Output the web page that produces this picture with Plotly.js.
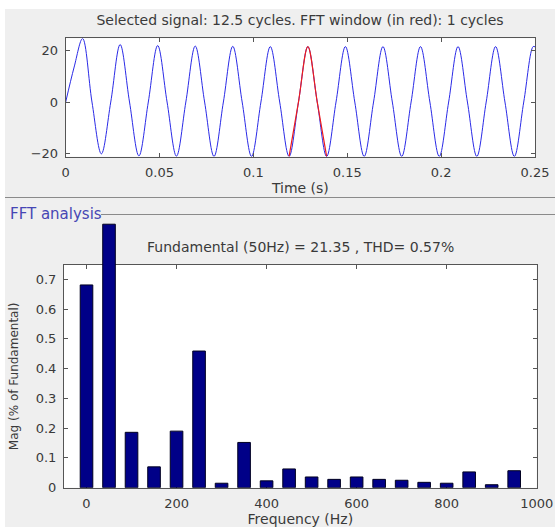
<!DOCTYPE html>
<html>
<head>
<meta charset="utf-8">
<script src="https://cdn.plot.ly/plotly-3.0.1.min.js"></script>
<style>
html,body{margin:0;padding:0;background:#efefef;}
#chart{width:555px;height:527px;}
</style>
</head>
<body>
<div id="chart"></div>
<script>
// ---- Signal (zero crossings and extrema) ----
var sigTime = [0, 0.0045, 0.009, 0.014, 0.019, 0.024, 0.029, 0.034, 0.039, 0.044, 0.049, 0.054,
  0.059, 0.064, 0.069, 0.074, 0.079, 0.084, 0.089, 0.094, 0.099, 0.104,
  0.109, 0.114, 0.119, 0.124, 0.129, 0.134, 0.139, 0.144, 0.149, 0.154,
  0.159, 0.164, 0.169, 0.174, 0.179, 0.184, 0.189, 0.194, 0.199, 0.204,
  0.209, 0.214, 0.219, 0.224, 0.229, 0.234, 0.239, 0.244, 0.249, 0.25];
var sigValue = [0, 13.5, 24.5, 0, -20.0, 0, 22.2, 0, -20.8, 0, 21.8, 0,
  -20.9, 0, 21.6, 0, -21, 0, 21.5, 0, -21, 0,
  21.4, 0, -21, 0, 21.4, 0, -21, 0, 21.4, 0,
  -21, 0, 21.4, 0, -21, 0, 21.4, 0, -21, 0,
  21.4, 0, -21, 0, 21.4, 0, -21, 0, 21.4, 21.3];
var fftWindowStart = 0.119;
var fftWindowEnd = 0.139;

// ---- FFT bars ----
var freqHz = [0, 50, 100, 150, 200, 250, 300, 350, 400, 450, 500, 550, 600, 650, 700, 750, 800, 850, 900, 950];
var magPct = [0.681, 0.885, 0.186, 0.070, 0.190, 0.459, 0.015, 0.152, 0.023, 0.063, 0.036, 0.028, 0.036, 0.028, 0.025, 0.018, 0.015, 0.053, 0.010, 0.057];

var topTitle = "Selected signal: 12.5 cycles. FFT window (in red): 1 cycles";
var fftSubtitle = "Fundamental (50Hz) = 21.35 , THD= 0.57%";
var panelLabel = "FFT analysis";
var timeTicks = [0, 0.05, 0.1, 0.15, 0.2, 0.25];
var timeTickText = ["0", "0.05", "0.1", "0.15", "0.2", "0.25"];
var sigTicks = [-20, 0, 20];
var magTicks = [0, 0.1, 0.2, 0.3, 0.4, 0.5, 0.6, 0.7];
var freqTicks = [0, 200, 400, 600, 800, 1000];

var winT = [], winV = [];
for (var i = 0; i < sigTime.length; i++) {
  if (sigTime[i] >= fftWindowStart - 1e-9 && sigTime[i] <= fftWindowEnd + 1e-9) {
    winT.push(sigTime[i]); winV.push(sigValue[i]);
  }
}

var W = 555, H = 527;
function px(x){return x / W;}
function py(y){return 1 - y / H;}

// plot-area geometry (pixels)
var top1 = 38.3, bot1 = 156.7, left1 = 65.7, right1 = 535;
var top2 = 265, bot2 = 487.7, left2 = 64, right2 = 536.7, overflowTop = 220;
var magMax = 0.748;

var FONT = 'DejaVu Sans, Verdana, sans-serif';
var TXT = '#3a3a3a';
var axisCommon = {
  showgrid: false, zeroline: false, showline: true, linecolor: '#555', linewidth: 1,
  mirror: 'ticks', ticks: 'inside', ticklen: 4, tickcolor: '#555',
  tickfont: {family: FONT, size: 13, color: TXT}, automargin: false, fixedrange: true,
  ticklabelstandoff: 4
};

var traces = [
  {x: sigTime, y: sigValue, type: 'scatter', mode: 'lines', xaxis: 'x', yaxis: 'y',
   line: {color: '#2a2ae6', width: 1, shape: 'spline', smoothing: 1.0}, hoverinfo: 'skip'},
  {x: winT, y: winV, type: 'scatter', mode: 'lines', xaxis: 'x', yaxis: 'y',
   line: {color: '#ee1c1c', width: 1.2, shape: 'spline', smoothing: 1.0}, hoverinfo: 'skip'},
  // empty trace so the framed FFT subplot (x2/y2) exists
  {x: [], y: [], type: 'scatter', mode: 'lines', xaxis: 'x2', yaxis: 'y2', hoverinfo: 'skip'},
  {x: freqHz, y: magPct, type: 'bar', xaxis: 'x2', yaxis: 'y3', width: 28,
   marker: {color: '#000088', line: {color: '#000020', width: 1}}, hoverinfo: 'skip'}
];

var layout = {
  width: W, height: H, margin: {l: 0, r: 0, t: 0, b: 0},
  paper_bgcolor: '#efefef', plot_bgcolor: 'rgba(0,0,0,0)', showlegend: false,
  font: {family: FONT, size: 13, color: TXT},
  title: {text: topTitle, x: px(300), xanchor: 'center', y: py(20), yanchor: 'middle',
          font: {family: FONT, size: 14, color: TXT}},
  xaxis: Object.assign({}, axisCommon, {
    domain: [px(left1), px(right1)], range: [0, 0.25], anchor: 'y',
    tickvals: timeTicks, ticktext: timeTickText,
    title: {text: 'Time (s)', font: {family: FONT, size: 14, color: TXT}, standoff: 3}
  }),
  yaxis: Object.assign({}, axisCommon, {
    domain: [py(bot1), py(top1)], range: [-21.1, 24.6], anchor: 'x',
    tickvals: sigTicks
  }),
  xaxis2: Object.assign({}, axisCommon, {
    domain: [px(left2), px(right2)], range: [-50, 1000], anchor: 'y2',
    tickvals: freqTicks,
    title: {text: 'Frequency (Hz)', font: {family: FONT, size: 14, color: TXT}, standoff: 3}
  }),
  yaxis2: Object.assign({}, axisCommon, {
    domain: [py(bot2), py(top2)], range: [0, magMax], anchor: 'x2',
    tickvals: magTicks,
    title: {text: 'Mag (% of Fundamental)', font: {family: FONT, size: 12, color: TXT}, standoff: 14}
  }),
  // same scale as yaxis2, taller domain so the fundamental bar can rise above the box
  yaxis3: {
    domain: [py(bot2), py(overflowTop)],
    range: [0, magMax * (bot2 - overflowTop) / (bot2 - top2)],
    anchor: 'x2', visible: false, fixedrange: true
  },
  annotations: [
    {text: fftSubtitle, xref: 'paper', yref: 'paper', x: px(300), y: py(247),
     xanchor: 'center', yanchor: 'middle', showarrow: false,
     font: {family: FONT, size: 14, color: TXT}},
    {text: panelLabel, xref: 'paper', yref: 'paper', x: px(8), y: py(214),
     xanchor: 'left', yanchor: 'middle', showarrow: false,
     font: {family: FONT, size: 15, color: '#4646b4'}}
  ],
  shapes: [
    {type: 'rect', xref: 'paper', yref: 'paper', x0: 0, x1: 1, y0: py(9), y1: 1,
     fillcolor: '#ffffff', line: {width: 0}, layer: 'below'},
    {type: 'rect', xref: 'paper', yref: 'paper', x0: 0, x1: px(5), y0: 0, y1: 1,
     fillcolor: '#ffffff', line: {width: 0}, layer: 'below'},
    {type: 'rect', xref: 'paper', yref: 'paper', x0: px(left1), x1: px(right1), y0: py(bot1), y1: py(top1),
     fillcolor: '#ffffff', line: {width: 0}, layer: 'below'},
    {type: 'rect', xref: 'paper', yref: 'paper', x0: px(left2), x1: px(right2), y0: py(bot2), y1: py(top2),
     fillcolor: '#ffffff', line: {width: 0}, layer: 'below'},
    {type: 'line', xref: 'paper', yref: 'paper', x0: px(5), x1: 1, y0: py(197.5), y1: py(197.5),
     line: {color: '#8a8a8a', width: 1}},
    {type: 'line', xref: 'paper', yref: 'paper', x0: px(101), x1: 1, y0: py(214.5), y1: py(214.5),
     line: {color: '#8a8a8a', width: 1}}
  ]
};

Plotly.newPlot('chart', traces, layout, {displayModeBar: false, staticPlot: true});
</script>
</body>
</html>
